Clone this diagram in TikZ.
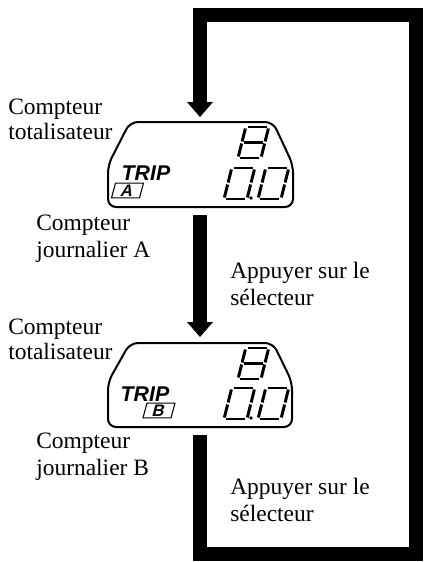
\documentclass[tikz,border=0pt]{standalone}
\usepackage{fontspec}
\setmainfont{Liberation Serif}
\setsansfont{Liberation Sans}
\usetikzlibrary{positioning}
\tikzset{
  caption/.style={font=\fontsize{17.6}{20}\selectfont, align=left, anchor=north west, inner sep=0pt},
  tightcaption/.style={caption, font=\fontsize{17.6}{18.6}\selectfont},
  trip/.style={font=\fontsize{16}{16}\selectfont\sffamily\bfseries\itshape, inner sep=0pt},
  letterbox/.style={draw, line width=0.8pt, xslant=0.27, font=\fontsize{12.5}{12.5}\selectfont\sffamily\bfseries, minimum width=21pt, minimum height=11pt, inner sep=0pt},
  band/.style={line width=10.5pt},
  display/.style={line width=1.5pt, rounded corners=6pt},
  seg/.style={line width=2.2pt}
}
% lcd digits, bars drawn with small gaps at the corners
\newcommand{\lcdzero}[2]{%
  \begin{scope}[shift={(#1,#2)}, xslant=0.25]
    \draw[seg] (2,0) -- (21,0) (2,-31) -- (21,-31);
    \draw[seg] (0,-1.5) -- (0,-14.5) (0,-16.5) -- (0,-29.5);
    \draw[seg] (23,-1.5) -- (23,-14.5) (23,-16.5) -- (23,-29.5);
  \end{scope}}
\newcommand{\lcdeight}[2]{%
  \begin{scope}[shift={(#1,#2)}, xslant=0.25]
    \draw[seg] (2,0) -- (21,0) (2,-15.5) -- (21,-15.5) (2,-31) -- (21,-31);
    \draw[seg] (0,-1.5) -- (0,-14.5) (0,-16.5) -- (0,-29.5);
    \draw[seg] (23,-1.5) -- (23,-14.5) (23,-16.5) -- (23,-29.5);
  \end{scope}}
\begin{document}
\begin{tikzpicture}[x=0.75pt, y=-0.75pt]
\useasboundingbox (0,0) rectangle (426,562);
% outer loop and arrows
\coordinate (loopstart) at (200,435);
\coordinate (loopend) at (200,102);
\coordinate (midstart) at (200,215);
\coordinate (midend) at (200,322);
\draw[band] (loopstart) -- (200,553.5) -- (416,553.5) -- (416,15) -- (200,15) -- (loopend);
\draw[band] (midstart) -- (midend);
\fill (187,102) -- (213,102) -- (200,117) -- cycle;
\fill (187,322) -- (213,322) -- (200,337) -- cycle;
% first display
\draw[display] (108,207) -- (108,165) -- (130,122) -- (273,122) -- (293,165) -- (293,207) -- cycle;
\node[trip] (tripa) at (146,173.5) {TRIP};
\node[letterbox] (boxa) at (127.5,190.5) {A};
\lcdeight{238}{158}
\lcdzero{224}{199}
\lcdzero{258}{199}
\fill (251,198) circle (1.8);
% second display
\draw[display] (108,427) -- (108,382) -- (130,343) -- (273,343) -- (292,382) -- (292,427) -- cycle;
\node[trip] (tripb) at (145,394) {TRIP};
\node[letterbox] (boxb) at (159,410.5) {B};
\lcdeight{238}{379}
\lcdzero{224}{419}
\lcdzero{258}{419}
\fill (251,418) circle (1.8);
% labels
\node[tightcaption] (totala) at (8,99) {Compteur\\totalisateur};
\node[caption] (joura) at (36,215) {Compteur\\journalier A};
\node[caption] (pressa) at (230,262) {Appuyer sur le\\sélecteur};
\node[tightcaption] (totalb) at (8,319) {Compteur\\totalisateur};
\node[caption] (jourb) at (36,433) {Compteur\\journalier B};
\node[caption] (pressb) at (230,478) {Appuyer sur le\\sélecteur};
\end{tikzpicture}
\end{document}
